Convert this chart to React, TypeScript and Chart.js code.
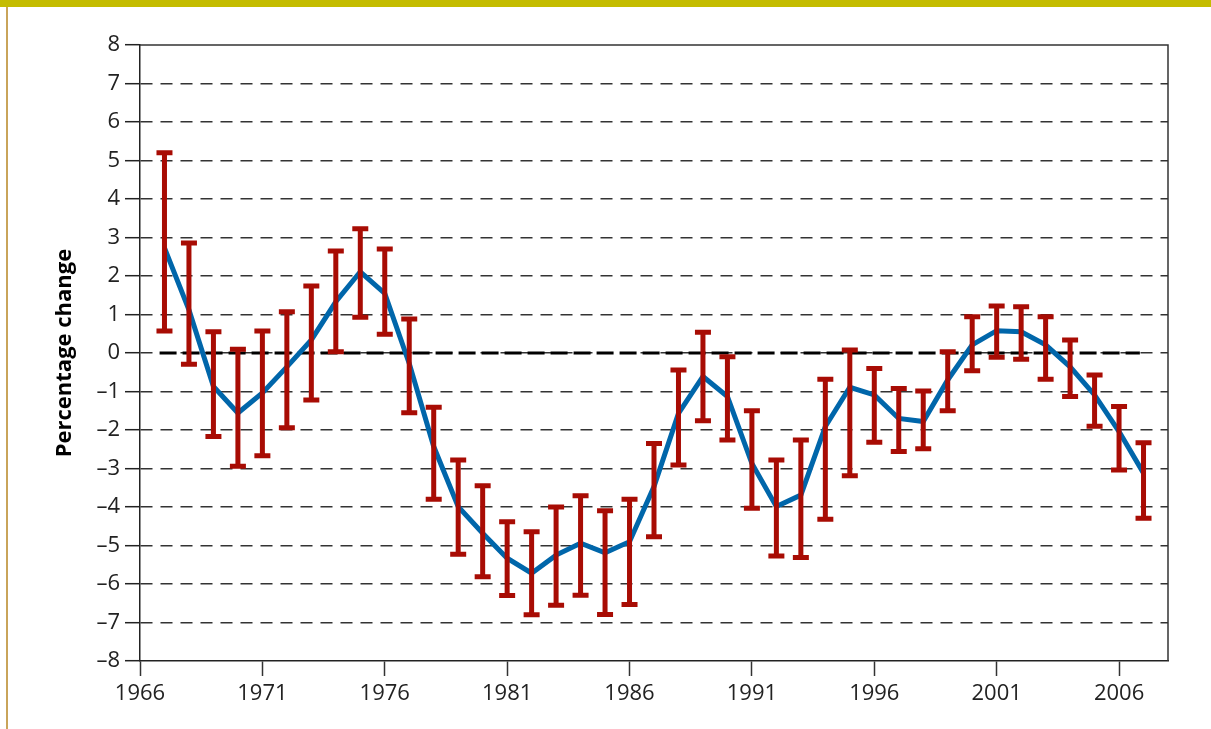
import React, { useEffect, useRef } from 'react';
import { Chart, registerables } from 'chart.js';

Chart.register(...registerables);

const years = [
  1967, 1968, 1969, 1970, 1971, 1972, 1973, 1974, 1975, 1976,
  1977, 1978, 1979, 1980, 1981, 1982, 1983, 1984, 1985, 1986,
  1987, 1988, 1989, 1990, 1991, 1992, 1993, 1994, 1995, 1996,
  1997, 1998, 1999, 2000, 2001, 2002, 2003, 2004, 2005, 2006, 2007,
];

const values = [
  2.73, 1.12, -0.87, -1.56, -1.04, -0.36, 0.34, 1.33, 2.11, 1.55,
  -0.27, -2.43, -3.99, -4.68, -5.33, -5.72, -5.25, -4.94, -5.19, -4.9,
  -3.47, -1.57, -0.61, -1.13, -2.87, -3.99, -3.69, -1.91, -0.89, -1.09,
  -1.7, -1.78, -0.7, 0.21, 0.58, 0.55, 0.21, -0.36, -1.09, -2.04, -3.12,
];

const upper = [
  5.2, 2.86, 0.55, 0.1, 0.57, 1.07, 1.74, 2.65, 3.23, 2.7,
  0.88, -1.41, -2.78, -3.45, -4.38, -4.64, -4.0, -3.71, -4.1, -3.8,
  -2.35, -0.44, 0.54, -0.1, -1.5, -2.78, -2.26, -0.68, 0.08, -0.4,
  -0.92, -0.99, 0.03, 0.94, 1.22, 1.2, 0.94, 0.34, -0.57, -1.39, -2.33,
];

const lower = [
  0.57, -0.29, -2.17, -2.94, -2.67, -1.94, -1.22, 0.03, 0.93, 0.49,
  -1.55, -3.8, -5.23, -5.81, -6.3, -6.8, -6.55, -6.29, -6.79, -6.53,
  -4.77, -2.91, -1.76, -2.26, -4.03, -5.27, -5.31, -4.32, -3.19, -2.32,
  -2.56, -2.49, -1.5, -0.46, -0.11, -0.16, -0.68, -1.13, -1.9, -3.04, -4.29,
];

const xTickYears = [1966, 1971, 1976, 1981, 1986, 1991, 1996, 2001, 2006];
const zeroLineYears = [1966.8, 2006.85];
const zeroLineValues = [0, 0];

const FONT = "'Open Sans', 'DejaVu Sans', sans-serif";

const errorBarPlugin = {
  id: 'errorBars',
  afterDatasetsDraw(chart: any) {
    const { ctx, scales } = chart;
    const xs = scales.x;
    const ys = scales.y;
    ctx.save();
    ctx.strokeStyle = '#a80c04';
    ctx.lineWidth = 5;
    ctx.lineCap = 'butt';
    const capHalf = 8;
    years.forEach((yr, i) => {
      const px = xs.getPixelForValue(yr);
      const pTop = ys.getPixelForValue(upper[i]);
      const pBot = ys.getPixelForValue(lower[i]);
      ctx.beginPath();
      ctx.moveTo(px, pTop);
      ctx.lineTo(px, pBot);
      ctx.moveTo(px - capHalf, pTop);
      ctx.lineTo(px + capHalf, pTop);
      ctx.moveTo(px - capHalf, pBot);
      ctx.lineTo(px + capHalf, pBot);
      ctx.stroke();
    });
    ctx.restore();
  },
};

const framePlugin = {
  id: 'frame',
  beforeDatasetsDraw(chart: any) {
    const { ctx, chartArea } = chart;
    ctx.save();
    ctx.strokeStyle = '#333';
    ctx.lineWidth = 1.5;
    ctx.beginPath();
    ctx.moveTo(chartArea.left, chartArea.top);
    ctx.lineTo(chartArea.right, chartArea.top);
    ctx.lineTo(chartArea.right, chartArea.bottom);
    ctx.stroke();
    ctx.restore();
  },
};

const fmt = (v: number) => (v < 0 ? '\u2013' + Math.abs(v) : String(v));

export default function App() {
  const ref = useRef<HTMLCanvasElement | null>(null);

  useEffect(() => {
    if (!ref.current) return;
    const chart = new Chart(ref.current, {
      type: 'line',
      data: {
        datasets: [
          {
            label: 'zero',
            data: zeroLineYears.map((x, i) => ({ x, y: zeroLineValues[i] })),
            borderColor: '#000',
            borderWidth: 3,
            borderDash: [17, 6],
            pointRadius: 0,
            order: 2,
          },
          {
            label: 'Percentage change',
            data: years.map((x, i) => ({ x, y: values[i] })),
            borderColor: '#0066aa',
            borderWidth: 5,
            pointRadius: 0,
            tension: 0,
            order: 1,
          },
        ],
      },
      options: {
        responsive: false,
        animation: false,
        layout: { padding: { left: 0, top: 45, right: 43, bottom: 0 } },
        plugins: {
          legend: { display: false },
          tooltip: { enabled: false },
        },
        scales: {
          x: {
            type: 'linear',
            min: 1966,
            max: 2008,
            afterBuildTicks: (scale: any) => {
              scale.ticks = xTickYears.map((v) => ({ value: v }));
            },
            afterFit: (scale: any) => {
              scale.height = 68;
            },
            grid: {
              drawOnChartArea: false,
              drawTicks: true,
              tickLength: 15,
              tickColor: '#333',
              tickWidth: 1.5,
            },
            border: { display: true, color: '#222', width: 1.5 },
            ticks: {
              autoSkip: false,
              maxRotation: 0,
              padding: 5,
              color: '#222',
              font: { family: FONT, size: 22 },
              callback: (v: any) => String(v),
            },
          },
          y: {
            min: -8,
            max: 8,
            afterFit: (scale: any) => {
              scale.width = 140;
            },
            grid: {
              color: (c: any) =>
                c.tick && (c.tick.value === 8 || c.tick.value === -8)
                  ? 'rgba(0,0,0,0)'
                  : '#333',
              lineWidth: 1.4,
              tickLength: 15,
              tickColor: '#222',
              tickWidth: 1.5,
            },
            border: { display: true, color: '#222', width: 1.5, dash: [12, 8] },
            ticks: {
              stepSize: 1,
              padding: 5,
              color: '#222',
              font: { family: FONT, size: 22 },
              callback: (v: any) => fmt(Number(v)),
            },
            title: {
              display: true,
              text: 'Percentage change',
              color: '#000',
              font: { family: FONT, size: 22, weight: 'bold' },
              padding: { top: 52, bottom: 0 },
            },
          },
        },
      },
      plugins: [framePlugin, errorBarPlugin],
    });
    return () => chart.destroy();
  }, []);

  return (
    <div style={{ position: 'fixed', left: 0, top: 0, width: 1211, height: 729, background: '#fff' }}>
      <div style={{ position: 'absolute', left: 0, top: 0, width: 1211, height: 7, background: '#c4bc00' }} />
      <div style={{ position: 'absolute', left: 6, top: 7, width: 2, height: 722, background: '#c9a45a' }} />
      <canvas ref={ref} width={1211} height={729} style={{ position: 'absolute', left: 0, top: 0, width: 1211, height: 729 }} />
    </div>
  );
}
